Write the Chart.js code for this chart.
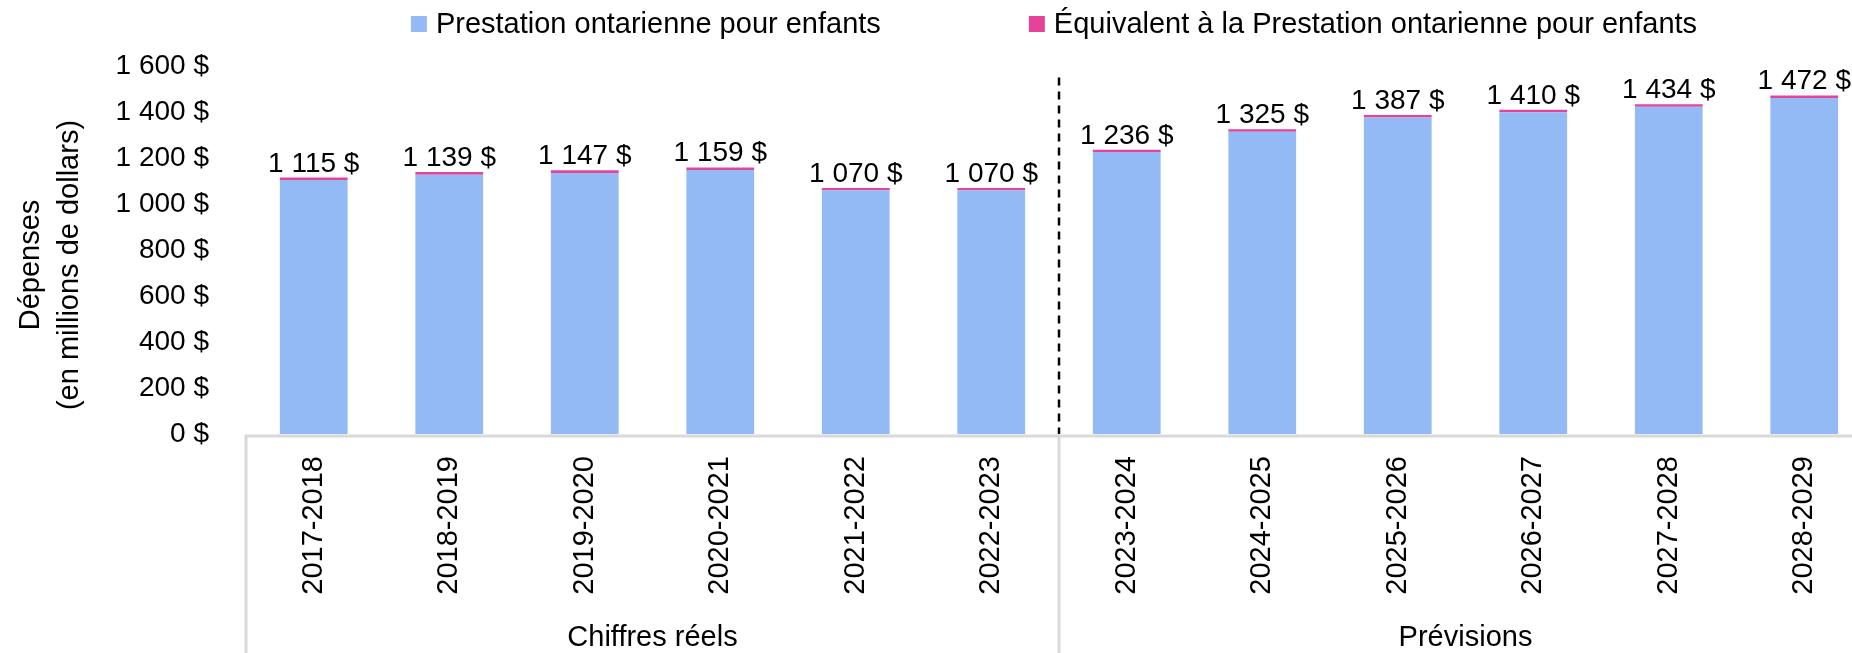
<!DOCTYPE html>
<html lang="fr">
<head>
<meta charset="utf-8">
<title>Prestation ontarienne pour enfants</title>
<script src="https://cdn.jsdelivr.net/npm/chart.js@4.4.1/dist/chart.umd.min.js"></script>
<style>
  html, body { margin: 0; padding: 0; overflow: hidden; background: #fff; }
  #wrap { position: relative; width: 1880px; height: 653px; }
</style>
</head>
<body>
<div id="wrap"><canvas id="chart"></canvas></div>
<script>
const years = [
    "2017-2018", "2018-2019", "2019-2020", "2020-2021", "2021-2022", "2022-2023",
    "2023-2024", "2024-2025", "2025-2026", "2026-2027", "2027-2028", "2028-2029",
];
const periods = ["Chiffres réels", "Prévisions"];
const actualCount = 6; // first 6 years are actuals, rest are projections

// millions $
const poeValues = [1104, 1127, 1135, 1148, 1060, 1060, 1226, 1314, 1376, 1399, 1423, 1461];
const equivValues = [11, 12, 12, 11, 10, 10, 10, 11, 11, 11, 11, 11];

const yTitle = ["Dépenses", "(en millions de dollars)"];
const yMax = 1600;
const yStep = 200;
const dividerTop = 1550; // where the dashed line starts

const BLUE = "#93baf5";
const PINK = "#e6429a";
const FONT = "'Liberation Sans', Arial, sans-serif";

Chart.defaults.font.family = FONT;
Chart.defaults.color = "#000";

function dollars(v) {
    return String(Math.round(v)).replace(/\B(?=(\d{3})+(?!\d))/g, " ") + " $";
}

// legend, value labels, y title, axis line, group separators
const decor = {
    id: "decor",
    afterDatasetsDraw(chart) {
        const { ctx, chartArea, scales } = chart;
        const x = scales.x;
        const y = scales.y;
        const half = (x.getPixelForValue(1) - x.getPixelForValue(0)) / 2;
        const bottom = chartArea.bottom;

        ctx.save();

        // axis line and vertical group separators
        ctx.strokeStyle = "#d9d9d9";
        ctx.lineWidth = 3;
        ctx.beginPath();
        ctx.moveTo(chartArea.left - 1.5, bottom + 2);
        ctx.lineTo(chartArea.right, bottom + 2);
        [0, actualCount, years.length].forEach((i) => {
            const px = x.getPixelForValue(i) - half;
            ctx.moveTo(px, bottom + 2);
            ctx.lineTo(px, chart.height);
        });
        ctx.stroke();

        // dashed divider between actuals and forecasts
        const dx = x.getPixelForValue(actualCount) - half;
        ctx.strokeStyle = "#000";
        ctx.lineWidth = 2.5;
        ctx.setLineDash([8, 6]);
        ctx.beginPath();
        ctx.moveTo(dx, y.getPixelForValue(dividerTop));
        ctx.lineTo(dx, bottom);
        ctx.stroke();
        ctx.setLineDash([]);

        // totals above bars
        ctx.fillStyle = "#000";
        ctx.font = "28px " + FONT;
        ctx.textAlign = "center";
        ctx.textBaseline = "alphabetic";
        const topMeta = chart.getDatasetMeta(chart.data.datasets.length - 1);
        topMeta.data.forEach((bar, i) => {
            const total = chart.data.datasets.reduce((s, d) => s + d.data[i], 0);
            ctx.fillText(dollars(total), bar.x, y.getPixelForValue(total) - 6);
        });

        // y axis title (two lines, rotated)
        ctx.font = "29px " + FONT;
        ctx.textBaseline = "middle";
        const ty = (chartArea.top + chartArea.bottom) / 2 + 15;
        yTitle.forEach((line, i) => {
            ctx.save();
            ctx.translate(31 + i * 39, ty);
            ctx.rotate(-Math.PI / 2);
            ctx.fillText(line, 0, 0);
            ctx.restore();
        });

        // legend
        ctx.font = "29px " + FONT;
        ctx.textAlign = "left";
        ctx.textBaseline = "middle";
        const box = 16;
        const gap = 148;
        const items = chart.data.datasets.map((d) => ({
            text: d.label,
            color: d.backgroundColor,
            w: box + 9 + ctx.measureText(d.label).width,
        }));
        const totalW = items.reduce((s, it) => s + it.w, 0) + gap * (items.length - 1);
        let lx = (chartArea.left + chartArea.right) / 2 - totalW / 2 - 5;
        const ly = 24;
        items.forEach((it) => {
            ctx.fillStyle = it.color;
            ctx.fillRect(lx, ly - box / 2, box, box);
            ctx.fillStyle = "#000";
            ctx.fillText(it.text, lx + box + 9, ly + 1);
            lx += it.w + gap;
        });

        ctx.restore();
    },
};

new Chart(document.getElementById("chart"), {
    type: "bar",
    data: {
        labels: years,
        datasets: [
            {
                label: "Prestation ontarienne pour enfants",
                data: poeValues,
                backgroundColor: BLUE,
                xAxisID: "x",
            },
            {
                label: "Équivalent à la Prestation ontarienne pour enfants",
                data: equivValues,
                backgroundColor: PINK,
                xAxisID: "x",
            },
        ],
    },
    options: {
        responsive: true,
        maintainAspectRatio: false,
        animation: false,
        datasets: {
            bar: {
                categoryPercentage: 1,
                barPercentage: 0.5,
            },
        },
        layout: {
            padding: { top: 66, right: 8, bottom: 0, left: 0 },
        },
        scales: {
            x: {
                stacked: true,
                offset: true,
                grid: { display: false, drawTicks: false },
                border: { display: false },
                ticks: {
                    font: { size: 29 },
                    minRotation: 90,
                    maxRotation: 90,
                    autoSkip: false,
                    padding: 22,
                },
                afterFit(s) {
                    s.height = 172;
                },
            },
            x2: {
                type: "category",
                labels: periods,
                position: "bottom",
                weight: 1,
                offset: true,
                grid: { display: false, drawTicks: false },
                border: { display: false },
                ticks: {
                    font: { size: 29 },
                    maxRotation: 0,
                    autoSkip: false,
                    padding: 15,
                },
                afterFit(s) {
                    s.height = 47;
                },
            },
            y: {
                stacked: true,
                min: 0,
                max: yMax,
                grid: { display: false, drawTicks: false },
                border: { display: false },
                ticks: {
                    stepSize: yStep,
                    font: { size: 28 },
                    padding: 37,
                    callback: (v) => dollars(v),
                },
                afterFit(s) {
                    s.width = 246;
                },
            },
        },
        plugins: {
            legend: { display: false },
            tooltip: { enabled: false },
        },
    },
    plugins: [decor],
});
</script>
</body>
</html>
